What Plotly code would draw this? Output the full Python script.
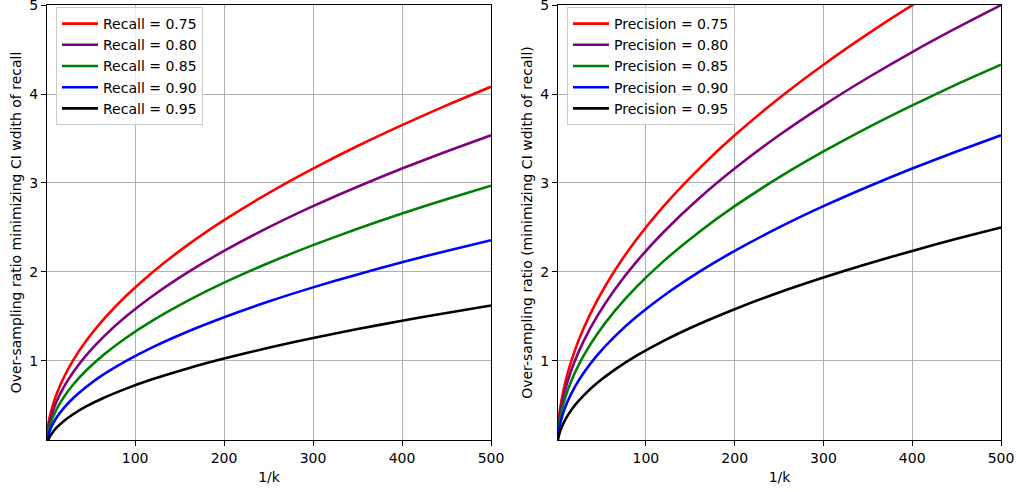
import plotly.graph_objects as go

# 1/k sample positions
x_vals = [1, 2, 4, 7, 12, 20, 30, 45, 65, 90, 120, 160, 200, 250, 300, 350, 400, 450, 500]

recall_labels = ["Recall = 0.75", "Recall = 0.80", "Recall = 0.85", "Recall = 0.90", "Recall = 0.95"]
recall_075 = [0.183, 0.258, 0.365, 0.483, 0.632, 0.816, 1.000, 1.225, 1.472, 1.732, 2.000, 2.309, 2.582, 2.887, 3.162, 3.416, 3.651, 3.873, 4.082]
recall_080 = [0.158, 0.224, 0.316, 0.418, 0.548, 0.707, 0.866, 1.061, 1.275, 1.500, 1.732, 2.000, 2.236, 2.500, 2.739, 2.958, 3.162, 3.354, 3.536]
recall_085 = [0.133, 0.188, 0.266, 0.351, 0.460, 0.594, 0.728, 0.891, 1.071, 1.260, 1.455, 1.680, 1.879, 2.100, 2.301, 2.485, 2.657, 2.818, 2.970]
recall_090 = [0.105, 0.149, 0.211, 0.279, 0.365, 0.471, 0.577, 0.707, 0.850, 1.000, 1.155, 1.333, 1.491, 1.667, 1.826, 1.972, 2.108, 2.236, 2.357]
recall_095 = [0.073, 0.103, 0.145, 0.192, 0.251, 0.324, 0.397, 0.487, 0.585, 0.688, 0.795, 0.918, 1.026, 1.147, 1.257, 1.357, 1.451, 1.539, 1.622]

precision_labels = ["Precision = 0.75", "Precision = 0.80", "Precision = 0.85", "Precision = 0.90", "Precision = 0.95"]
precision_075 = [0.250, 0.354, 0.500, 0.661, 0.866, 1.118, 1.369, 1.677, 2.016, 2.372, 2.739, 3.162, 3.536, 3.953, 4.330, 4.677, 5.000, 5.303, 5.590]
precision_080 = [0.224, 0.316, 0.447, 0.592, 0.775, 1.000, 1.225, 1.500, 1.803, 2.121, 2.449, 2.828, 3.162, 3.536, 3.873, 4.183, 4.472, 4.743, 5.000]
precision_085 = [0.194, 0.274, 0.387, 0.512, 0.671, 0.866, 1.061, 1.299, 1.561, 1.837, 2.121, 2.449, 2.739, 3.062, 3.354, 3.623, 3.873, 4.108, 4.330]
precision_090 = [0.158, 0.224, 0.316, 0.418, 0.548, 0.707, 0.866, 1.061, 1.275, 1.500, 1.732, 2.000, 2.236, 2.500, 2.739, 2.958, 3.162, 3.354, 3.536]
precision_095 = [0.112, 0.158, 0.224, 0.296, 0.387, 0.500, 0.612, 0.750, 0.901, 1.061, 1.225, 1.414, 1.581, 1.768, 1.936, 2.092, 2.236, 2.372, 2.500]

x_ticks = [100, 200, 300, 400, 500]
y_ticks = [1, 2, 3, 4, 5]

colors = ["red", "purple", "green", "blue", "black"]

FONT = "DejaVu Sans"
FS = 14
fig = go.Figure()

for lab, ys, c in zip(recall_labels, [recall_075, recall_080, recall_085, recall_090, recall_095], colors):
    fig.add_trace(go.Scatter(x=x_vals, y=ys, mode="lines", name=lab,
                             line=dict(color=c, width=2.6, shape="spline", smoothing=0.6),
                             xaxis="x", yaxis="y", legend="legend"))
for lab, ys, c in zip(precision_labels, [precision_075, precision_080, precision_085, precision_090, precision_095], colors):
    fig.add_trace(go.Scatter(x=x_vals, y=ys, mode="lines", name=lab,
                             line=dict(color=c, width=2.6, shape="spline", smoothing=0.6),
                             xaxis="x2", yaxis="y2", legend="legend2"))

W, H = 1016, 492
axis_common = dict(showline=True, linecolor="black", linewidth=1, mirror=True,
                   ticks="outside", ticklen=5, tickcolor="black", tickwidth=1,
                   showgrid=True, gridcolor="#b0b0b0", gridwidth=1, zeroline=False,
                   automargin=False, ticklabeloverflow="allow",
                   tickfont=dict(family=FONT, size=FS, color="black"))

xdom1 = [47 / W, 491 / W]
xdom2 = [558 / W, 1001 / W]
ydom = [(H - 440) / H, (H - 5) / H]

legend_common = dict(xanchor="left", yanchor="top",
                     bgcolor="rgba(255,255,255,0.8)", bordercolor="#cccccc", borderwidth=1,
                     font=dict(family=FONT, size=FS), tracegroupgap=0, itemwidth=36)

fig.update_layout(
    width=W, height=H, autosize=False,
    margin=dict(l=0, r=0, t=0, b=0, autoexpand=False),
    paper_bgcolor="white", plot_bgcolor="white",
    font=dict(family=FONT, size=FS, color="black"),
    xaxis=dict(domain=xdom1, range=[1, 500], tickvals=x_ticks, anchor="y",
               title=dict(text="1/k", font=dict(family=FONT, size=FS), standoff=7), **axis_common),
    yaxis=dict(domain=ydom, range=[0.11, 5.001], tickvals=y_ticks, anchor="x",
               title=dict(text="Over-sampling ratio minimizing CI wdith of recall",
                          font=dict(family=FONT, size=FS), standoff=4), **axis_common),
    xaxis2=dict(domain=xdom2, range=[1, 500], tickvals=x_ticks, anchor="y2",
                title=dict(text="1/k", font=dict(family=FONT, size=FS), standoff=7), **axis_common),
    yaxis2=dict(domain=ydom, range=[0.11, 5.001], tickvals=y_ticks, anchor="x2",
                title=dict(text="Over-sampling ratio (minimizing CI wdith of recall)",
                           font=dict(family=FONT, size=FS), standoff=4), **axis_common),
    legend=dict(x=xdom1[0] + 9 / W, y=ydom[1] - 2 / H, **legend_common),
    legend2=dict(x=xdom2[0] + 9 / W, y=ydom[1] - 2 / H, **legend_common),
)

fig.write_html("out.html", config={"responsive": False})
